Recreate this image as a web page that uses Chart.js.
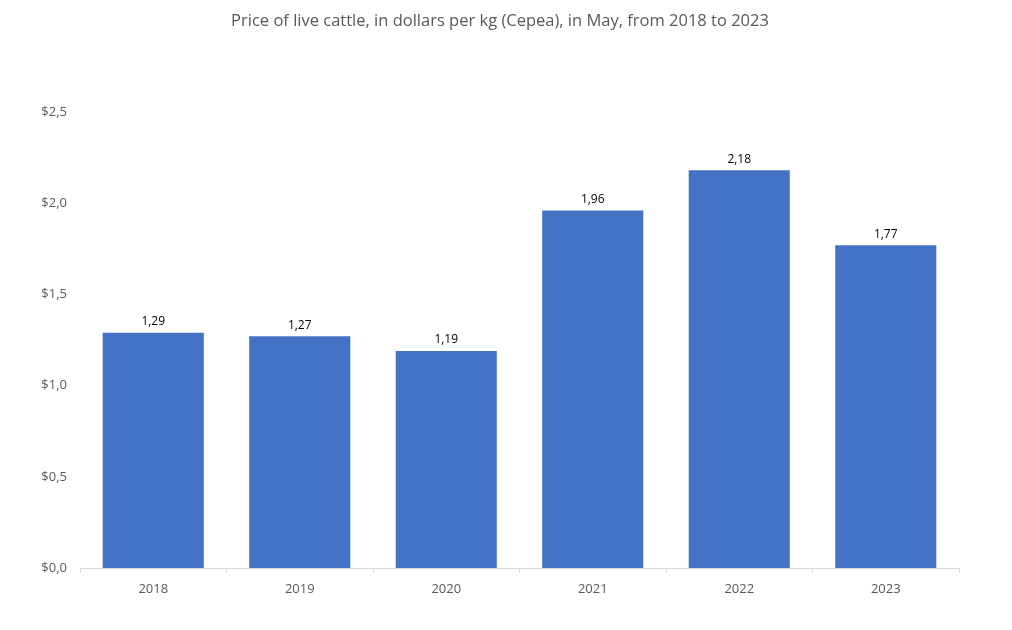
<!DOCTYPE html>
<html>
<head>
<meta charset="utf-8">
<script src="https://cdn.jsdelivr.net/npm/chart.js@4/dist/chart.umd.min.js"></script>
<style>
	body { margin: 0; background: #fff; }
	#wrap { width: 1012px; height: 630px; }
</style>
</head>
<body>
<div id="wrap"><canvas id="chart" width="1012" height="630"></canvas></div>
<script>
const years = ['2018', '2019', '2020', '2021', '2022', '2023'];
const prices = [1.29, 1.27, 1.19, 1.96, 2.18, 1.77];
const titleText = 'Price of live cattle, in dollars per kg (Cepea), in May, from 2018 to 2023';

const fontFamily = "'Open Sans', 'Noto Sans', sans-serif";

function commaNum(v, digits) {
	return v.toFixed(digits).replace('.', ',');
}

// draws the value above each bar
const barLabels = {
	id: 'barLabels',
	afterDatasetsDraw(chart) {
		const ctx = chart.ctx;
		const meta = chart.getDatasetMeta(0);
		ctx.save();
		ctx.font = '12px ' + fontFamily;
		ctx.fillStyle = '#000';
		ctx.textAlign = 'center';
		ctx.textBaseline = 'bottom';
		meta.data.forEach((bar, i) => {
			ctx.fillText(commaNum(prices[i], 2), bar.x, bar.y - 5);
		});
		ctx.restore();
	}
};

// title centred on the whole canvas, not just the plot
const pageTitle = {
	id: 'pageTitle',
	afterDraw(chart) {
		const ctx = chart.ctx;
		ctx.save();
		ctx.font = '16.5px ' + fontFamily;
		ctx.fillStyle = '#595959';
		ctx.textAlign = 'center';
		ctx.textBaseline = 'middle';
		ctx.fillText(titleText, 500, 21);
		ctx.restore();
	}
};

const data = {
	labels: years,
	datasets: [{
		label: 'Price',
		data: prices,
		backgroundColor: '#4472C4',
		borderWidth: 0,
		categoryPercentage: 1,
		barPercentage: 0.69
	}]
};

const config = {
	type: 'bar',
	data: data,
	options: {
		responsive: false,
		animation: false,
		layout: {
			padding: { left: 0, right: 53, top: 112, bottom: 0 }
		},
		plugins: {
			legend: { display: false },
			tooltip: { enabled: false },
			title: { display: false }
		},
		scales: {
			x: {
				grid: {
					display: true,
					drawOnChartArea: false,
					tickLength: 5,
					color: '#d9d9d9'
				},
				border: { color: '#d9d9d9' },
				ticks: {
					color: '#595959',
					font: { size: 13, family: fontFamily },
					padding: 8
				},
				afterFit(scale) { scale.height = 62; }
			},
			y: {
				min: 0,
				max: 2.5,
				grid: { display: false },
				border: { display: false },
				ticks: {
					stepSize: 0.5,
					color: '#595959',
					font: { size: 13, family: fontFamily },
					padding: 5,
					callback: (v) => '$' + commaNum(v, 1)
				},
				afterFit(scale) { scale.width = 80; }
			}
		}
	},
	plugins: [barLabels, pageTitle]
};

function createBarChart(ctx) {
	const myChart = new Chart(ctx, config);
	return myChart;
}

createBarChart(document.getElementById('chart'));
</script>
</body>
</html>
